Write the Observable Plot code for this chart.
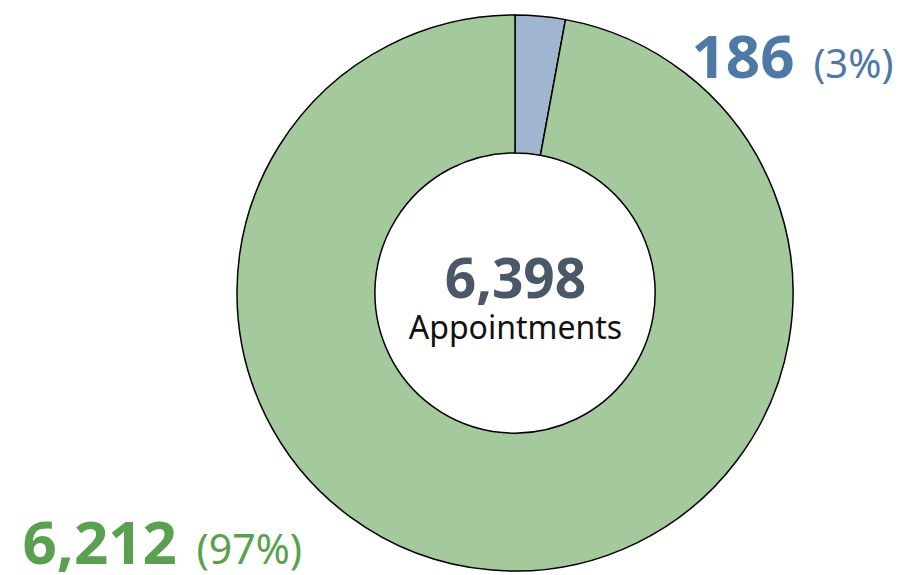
<!DOCTYPE html>
<html>
<head>
<meta charset="utf-8">
<script src="https://cdn.jsdelivr.net/npm/d3@7"></script>
<script src="https://cdn.jsdelivr.net/npm/@observablehq/plot@0.6"></script>
<style>
  html, body { margin: 0; padding: 0; background: #ffffff; }
  #chart { width: 900px; height: 575px; }
  svg { font-family: "Noto Sans", "Open Sans", sans-serif; }
</style>
</head>
<body>
<div id="chart"></div>
<script>
// ---- data ----
const categories = ["Segment A", "Segment B"];
const values = [186, 6212];
const fills = ["#9fb5d0", "#a4c99c"];
const labelColors = ["#4e79a7", "#59a14f"];
const centerLabel = "Appointments";

const total = d3.sum(values);
let acc = 0;
const rows = categories.map((c, i) => {
  const r = {category: c, value: values[i], start: acc, end: acc + values[i],
             pct: Math.round(values[i] / total * 100)};
  acc += values[i];
  return r;
});
const fmt = d3.format(",");
const innerRatio = 0.504;

const donut = Plot.dot(rows, {
  x: () => 0, y: () => 0, fill: "category",
  render: (index, scales, values_, dimensions, context) => {
    const cx = scales.x(0), cy = scales.y(0);
    const R = Math.abs(scales.x(1) - scales.x(0));
    const angle = d3.scaleLinear().domain([0, total]).range([0, 2 * Math.PI]);
    const arc = d3.arc();
    const g = d3.create("svg:g");
    g.selectAll("path").data(index).join("path")
      .attr("transform", `translate(${cx},${cy})`)
      .attr("d", i => arc({innerRadius: R * innerRatio, outerRadius: R,
                           startAngle: angle(rows[i].start), endAngle: angle(rows[i].end)}))
      .attr("fill", i => scales.color(rows[i].category))
      .attr("stroke", "#000")
      .attr("stroke-width", 1.5);
    return g.node();
  }
});

const blue = rows[0], green = rows[1];

const chart = Plot.plot({
  width: 900,
  height: 575,
  marginLeft: 237,
  marginRight: 107,
  marginTop: 15,
  marginBottom: 4,
  x: {domain: [-1, 1], axis: null},
  y: {domain: [-1, 1], axis: null},
  color: {domain: categories, range: fills},
  style: {background: "#ffffff", overflow: "visible"},
  marks: [
    donut,
    // small segment label
    Plot.text([fmt(blue.value)], {frameAnchor: "top-right", text: d => d, textAnchor: "end",
      lineAnchor: "bottom", dx: 1, dy: 62, fontSize: 60, fontWeight: "bold", fill: labelColors[0]}),
    Plot.text([`(${blue.pct}%)`], {frameAnchor: "top-right", text: d => d, textAnchor: "end",
      lineAnchor: "bottom", dx: 100, dy: 62, fontSize: 40, fill: labelColors[0]}),
    // large segment label
    Plot.text([fmt(green.value)], {frameAnchor: "bottom-left", text: d => d, textAnchor: "start",
      lineAnchor: "bottom", dx: -215, dy: -8, fontSize: 60, fontWeight: "bold", fill: labelColors[1]}),
    Plot.text([`(${green.pct}%)`], {frameAnchor: "bottom-left", text: d => d, textAnchor: "start",
      lineAnchor: "bottom", dx: -41, dy: -8, fontSize: 41, fill: labelColors[1]}),
    // center
    Plot.text([fmt(total)], {frameAnchor: "middle", text: d => d, textAnchor: "middle",
      lineAnchor: "bottom", dy: 4, fontSize: 55, fontWeight: "bold", fill: "#4a5869"}),
    Plot.text([centerLabel], {frameAnchor: "middle", text: d => d, textAnchor: "middle",
      lineAnchor: "bottom", dy: 45, fontSize: 32, fill: "#111111"})
  ]
});
document.getElementById("chart").appendChild(chart);
</script>
</body>
</html>
